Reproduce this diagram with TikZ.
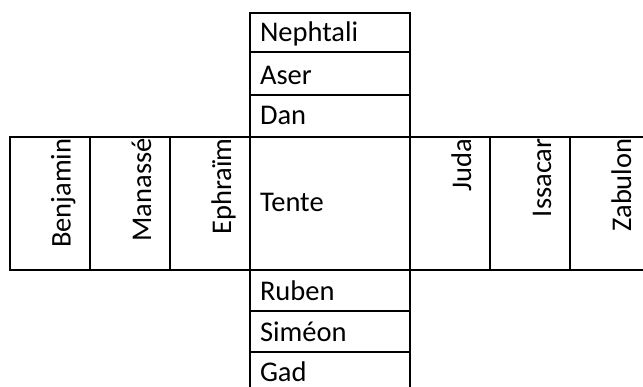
\documentclass[tikz,border=0pt]{standalone}
\usepackage{fontspec}
\setmainfont{Carlito}
\begin{document}
\begin{tikzpicture}[x=1pt,y=-1pt,
  cell/.style={draw=black, line width=2pt, inner sep=0pt, outer sep=0pt, anchor=north west},
  txt/.style={inner sep=0pt, outer sep=0pt, text=black, font=\fontsize{28.5}{34}\selectfont},
  htxt/.style={txt, anchor=base west},
  vtxt/.style={txt, rotate=90, anchor=base east}]
\clip (0,0) rectangle (643,387);
\fill[white] (0,0) rectangle (643,387);
% central column
\node[cell, minimum width=160pt, minimum height=39.5pt] (neph) at (250,13) {};
\node[cell, minimum width=160pt, minimum height=42.5pt] (aser) at (250,52.5) {};
\node[cell, minimum width=160pt, minimum height=41.7pt] (dan) at (250,95) {};
\node[cell, minimum width=160pt, minimum height=133.3pt] (tente) at (250,136.7) {};
\node[cell, minimum width=160pt, minimum height=41pt] (ruben) at (250,270) {};
\node[cell, minimum width=160pt, minimum height=41pt] (simeon) at (250,311) {};
\node[cell, minimum width=160pt, minimum height=43pt] (gad) at (250,352) {};
% band
\node[cell, minimum width=80.5pt, minimum height=133.3pt] (benj) at (9.5,136.7) {};
\node[cell, minimum width=80pt, minimum height=133.3pt] (mana) at (90,136.7) {};
\node[cell, minimum width=80pt, minimum height=133.3pt] (ephr) at (170,136.7) {};
\node[cell, minimum width=80pt, minimum height=133.3pt] (juda) at (410,136.7) {};
\node[cell, minimum width=80pt, minimum height=133.3pt] (issa) at (490,136.7) {};
\node[cell, minimum width=90pt, minimum height=133.3pt] (zabu) at (570,136.7) {};
% horizontal texts
\node[htxt] (tneph) at (260,41.7) {Nephtali};
\node[htxt] (taser) at (260,85) {Aser};
\node[htxt] (tdan) at (260,125) {Dan};
\node[htxt] (ttente) at (260,212) {Tente};
\node[htxt] (truben) at (260,301) {Ruben};
\node[htxt] (tsimeon) at (260,341.5) {Siméon};
\node[htxt] (tgad) at (260,382) {Gad};
% vertical texts
\node[vtxt] (tbenj) at (70.5,138.5) {Benjamin};
\node[vtxt] (tmana) at (151,138.5) {Manassé};
\node[vtxt] (tephr) at (231,138.5) {Ephraïm};
\node[vtxt] (tjuda) at (471,138.5) {Juda};
\node[vtxt] (tissa) at (551,138.5) {Issacar};
\node[vtxt] (tzabu) at (631,138.5) {Zabulon};
\end{tikzpicture}
\end{document}
